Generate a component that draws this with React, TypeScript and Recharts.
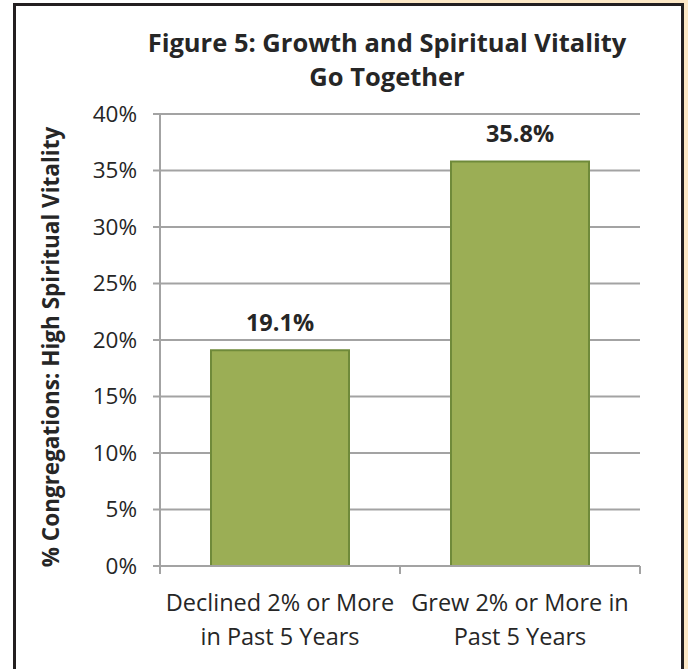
import React from 'react';
import { BarChart, Bar, XAxis, YAxis, CartesianGrid, LabelList } from 'recharts';

const categories = ['Declined 2% or More in Past 5 Years', 'Grew 2% or More in Past 5 Years'];
const categoryLines = [
  ['Declined 2% or More', 'in Past 5 Years'],
  ['Grew 2% or More in', 'Past 5 Years'],
];
const highVitality = [19.1, 35.8];
const yTicks = [0, 5, 10, 15, 20, 25, 30, 35, 40];
const titleLines = ['Figure 5: Growth and Spiritual Vitality', 'Go Together'];
const yAxisTitle = '% Congregations: High Spiritual Vitality';

const data = categories.map((c, i) => ({ category: c, value: highVitality[i] }));

const FONT = '"Open Sans", sans-serif';
const TEXT = '#262626';
const AXIS = '#a3a3a3';

const CategoryTick = (props: any) => {
  const { x, y, index, payload } = props;
  const half = payload && typeof payload.offset === 'number' && payload.offset > 0 ? payload.offset : 120;
  const lines = categoryLines[index] || [];
  return (
    <g>
      <line x1={x - half} x2={x - half} y1={y} y2={y + 8} stroke={AXIS} strokeWidth={2} />
      <line x1={x + half} x2={x + half} y1={y} y2={y + 8} stroke={AXIS} strokeWidth={2} />
      {lines.map((l, i) => (
        <text key={i} x={x} y={y + 45 + i * 34} textAnchor="middle" fill={TEXT} fontSize={23.5} fontFamily={FONT}>
          {l}
        </text>
      ))}
    </g>
  );
};

const YTitle = (props: any) => {
  const { viewBox } = props;
  const cx = 59;
  const cy = viewBox.y + viewBox.height / 2 + 7;
  return (
    <text x={cx} y={cy} transform={`rotate(-90 ${cx} ${cy})`} textAnchor="middle" fill={TEXT} fontSize={22.5} fontWeight={700} fontFamily={FONT}>
      {yAxisTitle}
    </text>
  );
};

export default function App() {
  return (
    <div style={{ position: 'absolute', left: 0, top: 0, width: 688, height: 669, background: '#fff', overflow: 'hidden' }}>
      <div style={{ position: 'absolute', right: 0, top: 0, width: 4, height: 669, background: '#fde8c6' }} />
      <div style={{ position: 'absolute', left: 380, top: 0, width: 308, height: 3, background: '#fde8c6' }} />
      <div style={{ position: 'absolute', left: 13, top: 3, width: 665, height: 700, border: '3px solid #231f20', boxSizing: 'content-box' }} />
      <div style={{ position: 'absolute', left: 0, top: 0 }}>
        <BarChart width={688} height={669} data={data} margin={{ top: 114, right: 48, bottom: 0, left: 0 }}>
          <CartesianGrid vertical={false} stroke={AXIS} strokeWidth={2} />
          <XAxis
            dataKey="category"
            height={103}
            axisLine={{ stroke: AXIS, strokeWidth: 2 }}
            tickLine={false}
            tickSize={0}
            tickMargin={0}
            tick={<CategoryTick />}
            interval={0}
          />
          <YAxis
            width={160}
            domain={[0, 40]}
            ticks={yTicks}
            tickFormatter={(v: number) => `${v}%`}
            axisLine={{ stroke: AXIS, strokeWidth: 2 }}
            tickLine={{ stroke: AXIS, strokeWidth: 2 }}
            tickSize={7}
            tickMargin={16}
            tick={{ fill: TEXT, fontSize: 22.5, fontFamily: FONT }}
            label={<YTitle />}
          />
          <Bar dataKey="value" barSize={138} fill="#9bae55" stroke="#6f8a3a" strokeWidth={2} isAnimationActive={false}>
            <LabelList
              dataKey="value"
              position="top"
              offset={19}
              formatter={(v: number) => `${v.toFixed(1)}%`}
              style={{ fill: TEXT, fontSize: 23.5, fontWeight: 700, fontFamily: FONT }}
            />
          </Bar>
        </BarChart>
      </div>
      <div style={{ position: 'absolute', left: 87, top: 25, width: 600, textAlign: 'center', fontFamily: FONT, fontWeight: 700, fontSize: 25.5, lineHeight: '34px', color: TEXT }}>
        {titleLines.map((t, i) => (
          <div key={i}>{t}</div>
        ))}
      </div>
    </div>
  );
}
